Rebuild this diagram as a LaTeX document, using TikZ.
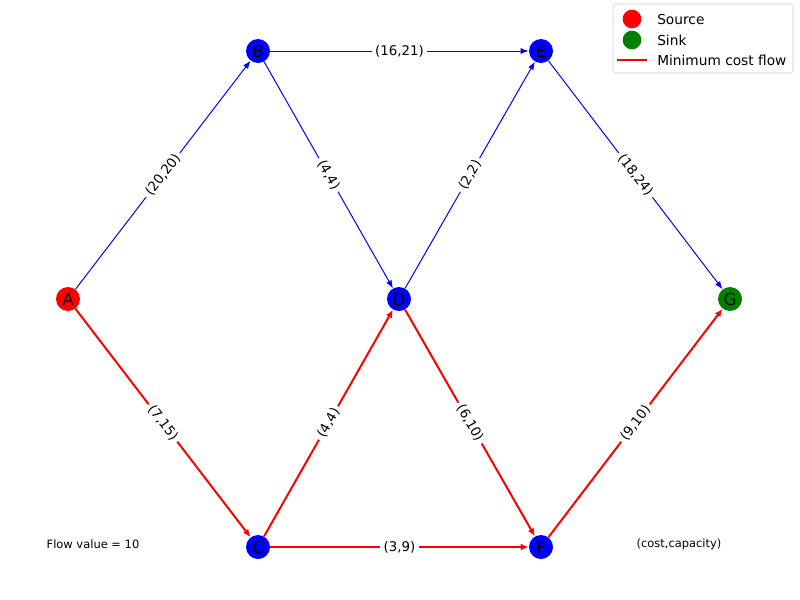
\documentclass[tikz,border=0pt]{standalone}
\usepackage{fontspec}
\setmainfont{DejaVu Sans}
\usetikzlibrary{arrows.meta}
\begin{document}
\begin{tikzpicture}
      [x=0.75pt, y=-0.75pt,
       vertex/.style={
           circle,
           fill=blue,
           inner sep=0pt,
           minimum size=18pt,
           font=\fontsize{12.5}{12.5}\selectfont
         },
       link/.style={draw=blue, line width=0.75pt, -{Latex[length=6pt,width=4.5pt]}},
       flowlink/.style={draw=red, line width=1.5pt, -{Latex[length=6pt,width=5pt]}},
       cost/.style={sloped, fill=white, inner sep=2.5pt, font=\fontsize{10}{12}\selectfont},
       marker/.style={circle, inner sep=0pt, minimum size=14pt},
       ]
    \useasboundingbox (0,0) rectangle (800,600);

    \node [vertex, fill=red] (A) at (68,299) {A};
    \node [vertex] (B) at (258,51) {B};
    \node [vertex] (C) at (258,547) {C};
    \node [vertex] (D) at (399,299) {D};
    \node [vertex] (E) at (541,51) {E};
    \node [vertex] (F) at (541,547) {F};
    \node [vertex, fill=green!50!black] (G) at (730,299) {G};

    \path (A) edge [link] node [cost] {(20,20)} (B);
    \path (B) edge [link] node [cost] {(16,21)} (E);
    \path (B) edge [link] node [cost] {(4,4)} (D);
    \path (D) edge [link] node [cost] {(2,2)} (E);
    \path (E) edge [link] node [cost] {(18,24)} (G);

    \path (A) edge [flowlink] node [cost] {(7,15)} (C);
    \path (C) edge [flowlink] node [cost] {(4,4)} (D);
    \path (D) edge [flowlink] node [cost] {(6,10)} (F);
    \path (C) edge [flowlink] node [cost] {(3,9)} (F);
    \path (F) edge [flowlink] node [cost] {(9,10)} (G);

    \node [font=\fontsize{8.6}{10}\selectfont] (flowval) at (93,544) {Flow value = 10};
    \node [font=\fontsize{8.6}{10}\selectfont] (units) at (679,544) {(cost,capacity)};

    % legend
    \draw [draw=black!20, fill=white, rounded corners=2pt] (613,4) rectangle (793,73);
    \node [marker, fill=red] (src) at (632,19) {};
    \node [marker, fill=green!50!black] (snk) at (632,40) {};
    \coordinate (l1) at (617,60);
    \coordinate (l2) at (647,60);
    \draw [red, line width=1.5pt] (l1) -- (l2);
    \begin{scope}[every node/.style={anchor=west, inner sep=0pt, font=\fontsize{10.3}{12}\selectfont}]
      \node (srctext) at (657,19) {Source};
      \node (snktext) at (657,40) {Sink};
      \node (flowtext) at (657,60) {Minimum cost flow};
    \end{scope}

  \end{tikzpicture}
\end{document}
